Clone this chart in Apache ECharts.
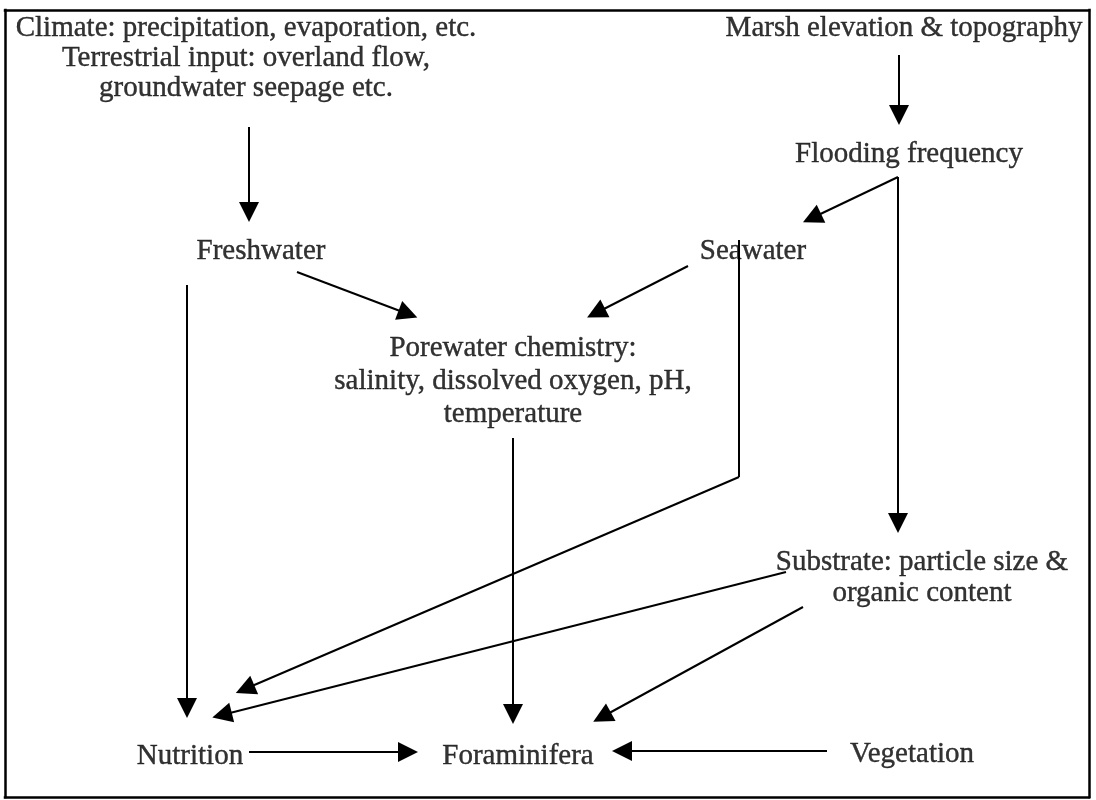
<!DOCTYPE html>
<html>
<head>
<meta charset="utf-8">
<script src="https://cdn.jsdelivr.net/npm/echarts@6/dist/echarts.min.js"></script>
<style>
  html, body { margin: 0; padding: 0; background: #fff; }
  #chart { width: 1096px; height: 800px; }
</style>
</head>
<body>
<div id="chart"></div>
<script>
// diagram space: x 0..1096, y 0..800 (y grows downwards)
const nodeNames = [
  'Climate: precipitation, evaporation, etc.\nTerrestrial input: overland flow,\ngroundwater seepage etc.',
  'Marsh elevation & topography',
  'Flooding frequency',
  'Freshwater',
  'Seawater',
  'Porewater chemistry:\nsalinity, dissolved oxygen, pH,\ntemperature',
  'Substrate: particle size &\norganic content',
  'Nutrition',
  'Foraminifera',
  'Vegetation'
];
const nodeX = [246, 904, 909, 261, 753, 513, 922, 190, 518, 912];
const nodeY = [58, 28, 154, 251, 251, 381, 578, 756, 756, 754];
const nodeLineHeight = [30, 30, 30, 30, 30, 33, 31, 30, 30, 30];

// arrows: [start, end] where end sits at the arrowhead centre
const arrows = [
  [[899, 55], [899, 115]],    // marsh -> flooding
  [[249, 127], [249, 212]],   // climate -> freshwater
  [[898, 177], [812, 218]],   // flooding -> seawater
  [[898, 177], [898, 523]],   // flooding -> substrate
  [[297, 272], [408, 314]],   // freshwater -> porewater
  [[688, 266], [596, 313]],   // seawater -> porewater
  [[187, 285], [187, 708]],   // freshwater -> nutrition
  [[513, 438], [513, 714]],   // porewater -> foraminifera
  [[739, 477], [245, 689]],   // seawater -> nutrition
  [[786, 572], [222, 715]],   // substrate -> nutrition
  [[803, 607], [602, 717]],   // substrate -> foraminifera
  [[249, 752], [408, 752]],   // nutrition -> foraminifera
  [[827, 751], [622, 751]]    // vegetation -> foraminifera
];

// plain segments (no head)
const plainLines = [
  [[739, 240], [739, 477]]    // seawater down leg
];

const frame = [[5, 10], [1089, 10], [1089, 797], [5, 797], [5, 10]];

const chart = echarts.init(document.getElementById('chart'));

const frameSegments = [];
for (let i = 0; i < frame.length - 1; i++) {
  frameSegments.push({ coords: [frame[i], frame[i + 1]] });
}

chart.setOption({
  backgroundColor: '#fff',
  animation: false,
  grid: { left: 0, right: 0, top: 0, bottom: 0 },
  xAxis: { type: 'value', min: 0, max: 1096, show: false },
  yAxis: { type: 'value', min: 0, max: 800, inverse: true, show: false },
  series: [
    {
      type: 'lines',
      coordinateSystem: 'cartesian2d',
      symbol: 'none',
      lineStyle: { color: '#000', width: 2.5, opacity: 1, cap: 'square' },
      data: frameSegments
    },
    {
      type: 'lines',
      coordinateSystem: 'cartesian2d',
      symbol: 'none',
      lineStyle: { color: '#000', width: 2, opacity: 1 },
      data: plainLines.map(c => ({ coords: c }))
    },
    {
      type: 'lines',
      coordinateSystem: 'cartesian2d',
      symbol: ['none', 'triangle'],
      symbolSize: 20,
      lineStyle: { color: '#000', width: 2, opacity: 1 },
      itemStyle: { color: '#000' },
      data: arrows.map(c => ({ coords: c }))
    },
    {
      type: 'scatter',
      symbolSize: 0,
      silent: true,
      label: {
        show: true,
        position: 'inside',
        color: '#000',
        fontFamily: 'Liberation Serif',
        fontSize: 29,
        textBorderColor: '#000',
        textBorderWidth: 0.4,
        align: 'center',
        verticalAlign: 'middle',
        formatter: p => p.name
      },
      data: nodeNames.map((n, i) => ({
        name: n,
        value: [nodeX[i], nodeY[i]],
        label: { lineHeight: nodeLineHeight[i] }
      }))
    }
  ]
});
</script>
</body>
</html>
